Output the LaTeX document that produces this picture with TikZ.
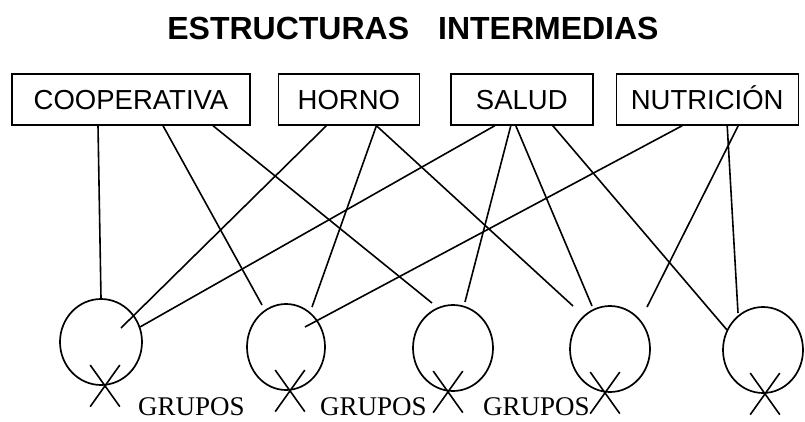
\documentclass[tikz,border=0pt]{standalone}
\usepackage{fontspec}
\setmainfont{Liberation Sans}
\newfontfamily\grpfont{Liberation Serif}
\usetikzlibrary{shapes,positioning}

\begin{document}
\begin{tikzpicture}[x=1pt, y=-1pt]
	%define block styles
	\tikzset{
		title/.style={font=\fontsize{32}{36}\selectfont\bfseries, inner sep=0pt},
		block/.style={rectangle, draw=black, line width=1.4pt, minimum height=51pt, inner sep=0pt, text height=20pt, text depth=0pt, font=\fontsize{27.5}{30}\selectfont},
		grupo/.style={ellipse, draw=black, line width=1.7pt, minimum width=80pt, minimum height=86pt, inner sep=0pt},
		xmark/.style={cross out, draw=black, line width=1.6pt, minimum width=28pt, minimum height=40pt, inner sep=0pt},
		grplabel/.style={font=\grpfont\fontsize{27}{30}\selectfont, inner sep=0pt},
		link/.style={line width=1.6pt},
	}
	\useasboundingbox (0,0) rectangle (805,422);
	%define nodes
	\node[title, anchor=base] (title) at (413,40) {ESTRUCTURAS\hspace{29pt}INTERMEDIAS};
	\node[block, minimum width=238pt] (coop) at (131,99.5) {COOPERATIVA};
	\node[block, minimum width=141pt, right=27pt of coop] (horno) {HORNO};
	\node[block, minimum width=142pt, right=30pt of horno] (salud) {SALUD};
	\node[block, minimum width=182pt, right=22pt of salud] (nutri) {NUTRICIÓN};
	\node[grupo, minimum width=82pt] (g1) at (101,342) {};
	\node[grupo, minimum width=78pt] (g2) at (286,347) {};
	\node[grupo] (g3) at (453,348) {};
	\node[grupo] (g4) at (610,349) {};
	\node[grupo] (g5) at (763,350) {};
	\foreach \i/\dx in {1/4, 2/4, 3/-5, 4/-5, 5/2}
		\node[xmark, xshift=\dx pt] (x\i) at (g\i.south) {};
	\node[grplabel, anchor=base west] (t1) at (138,415.5) {GRUPOS};
	\node[grplabel, anchor=base west] (t2) at (320,415.5) {GRUPOS};
	\node[grplabel, anchor=base west] (t3) at (483,415.5) {GRUPOS};
	%define lines
	\draw[link] ([xshift=-33pt]coop.south) -- (g1.north);
	\draw[link] ([xshift=32pt]coop.south) -- ([xshift=-24pt,yshift=42pt]g2.center);
	\draw[link] ([xshift=82pt]coop.south) -- ([xshift=-21pt,yshift=45pt]g3.center);
	\draw[link] ([xshift=-22.5pt]horno.south) -- ([xshift=20pt,yshift=14pt]g1.center);
	\draw[link] ([xshift=27.5pt]horno.south) -- ([xshift=26pt,yshift=40pt]g2.center);
	\draw[link] ([xshift=27.5pt]horno.south) -- ([xshift=-37pt,yshift=43pt]g4.center);
	\draw[link] ([xshift=-27pt]salud.south) -- ([xshift=39pt,yshift=15pt]g1.center);
	\draw[link] ([xshift=-11pt]salud.south) -- ([xshift=12pt,yshift=46pt]g3.center);
	\draw[link] ([xshift=-6pt]salud.south) -- ([xshift=-18pt,yshift=43pt]g4.center);
	\draw[link] ([xshift=31pt]salud.south) -- ([xshift=-36pt,yshift=20pt]g5.center);
	\draw[link] ([xshift=-25pt]nutri.south) -- ([xshift=19pt,yshift=20pt]g2.center);
	\draw[link] ([xshift=31pt]nutri.south) -- ([xshift=37pt,yshift=42pt]g4.center);
	\draw[link] ([xshift=20pt]nutri.south) -- ([xshift=-25pt,yshift=37pt]g5.center);
\end{tikzpicture}
\end{document}
